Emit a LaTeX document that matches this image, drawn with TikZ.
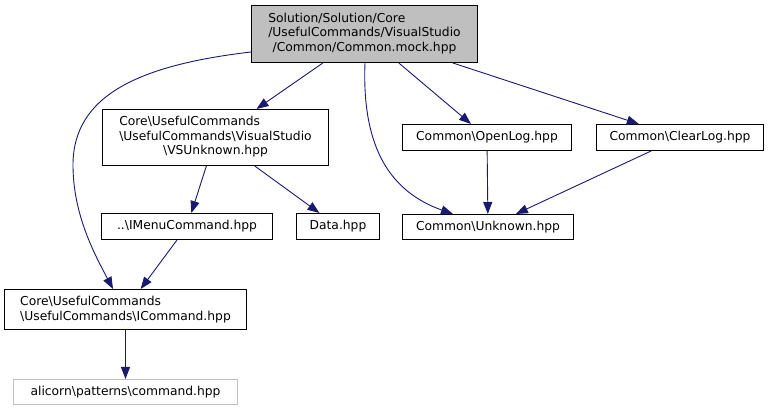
\documentclass[tikz,border=0pt]{standalone}
\usepackage{fontspec}
\setmainfont{DejaVu Sans}
\usetikzlibrary{arrows.meta}
\definecolor{edgeblue}{HTML}{191970}
\definecolor{topgray}{HTML}{BFBFBF}
\definecolor{extgray}{HTML}{BFBFBF}
\tikzset{
  filebox/.style={draw=black, line width=1pt, fill=white, inner sep=0pt, anchor=north west,
    font=\fontsize{12.3}{14.5}\selectfont, align=center},
  extbox/.style={filebox, draw=extgray},
  dep/.style={draw=edgeblue, line width=0.9pt, -{Triangle[length=12pt,width=9pt]}},
}
\begin{document}
\begin{tikzpicture}[x=1pt, y=-1pt]
\useasboundingbox (0,0) rectangle (769,411);
\node[filebox, fill=topgray, minimum width=226pt, minimum height=57pt] (top) at (251,5)
  {\begin{tabular}{@{}c@{}}\multicolumn{1}{@{}l@{}}{Solution/Solution/Core}\\/UsefulCommands/VisualStudio\\/Common/Common.mock.hpp\end{tabular}};
\node[filebox, minimum width=226pt, minimum height=56pt] (vs) at (102,109)
  {\begin{tabular}{@{}c@{}}\multicolumn{1}{@{}l@{}}{Core\textbackslash UsefulCommands}\\\textbackslash UsefulCommands\textbackslash VisualStudio\\\textbackslash VSUnknown.hpp\end{tabular}};
\node[filebox, minimum width=171pt, minimum height=26pt] (imenu) at (101,213)
  {..\textbackslash IMenuCommand.hpp};
\node[filebox, minimum width=83pt, minimum height=26pt] (data) at (296,213)
  {Data.hpp};
\node[filebox, minimum width=242pt, minimum height=40pt, align=left] (icmd) at (4,289)
  {Core\textbackslash UsefulCommands\\\textbackslash UsefulCommands\textbackslash ICommand.hpp};
\node[extbox, minimum width=224pt, minimum height=25pt] (ali) at (13,379)
  {alicorn\textbackslash patterns\textbackslash command.hpp};
\node[filebox, minimum width=169pt, minimum height=26pt] (open) at (402,124)
  {Common\textbackslash OpenLog.hpp};
\node[filebox, minimum width=167pt, minimum height=26pt] (clear) at (596,124)
  {Common\textbackslash ClearLog.hpp};
\node[filebox, minimum width=171pt, minimum height=25pt] (unk) at (402,214)
  {Common\textbackslash Unknown.hpp};
\coordinate (bend) at (73,165);

\draw[dep] (top) -- (vs);
\draw[dep] (top) -- (open);
\draw[dep] (top) -- (clear);
\draw[dep] ([yshift=11pt]top.south west) .. controls (140,65) and (73,95) .. (bend)
  .. controls (73,215) and (95,255) .. ([xshift=109pt]icmd.north west);
\draw[dep] ([xshift=114pt]top.south west) .. controls (362,140) and (385,190) .. ([xshift=51pt]unk.north west);
\draw[dep] (vs) -- (imenu);
\draw[dep] (vs) -- (data);
\draw[dep] (imenu) -- (icmd);
\draw[dep] (icmd) -- (ali);
\draw[dep] (open) -- (unk);
\draw[dep] (clear) -- (unk);
\end{tikzpicture}
\end{document}
